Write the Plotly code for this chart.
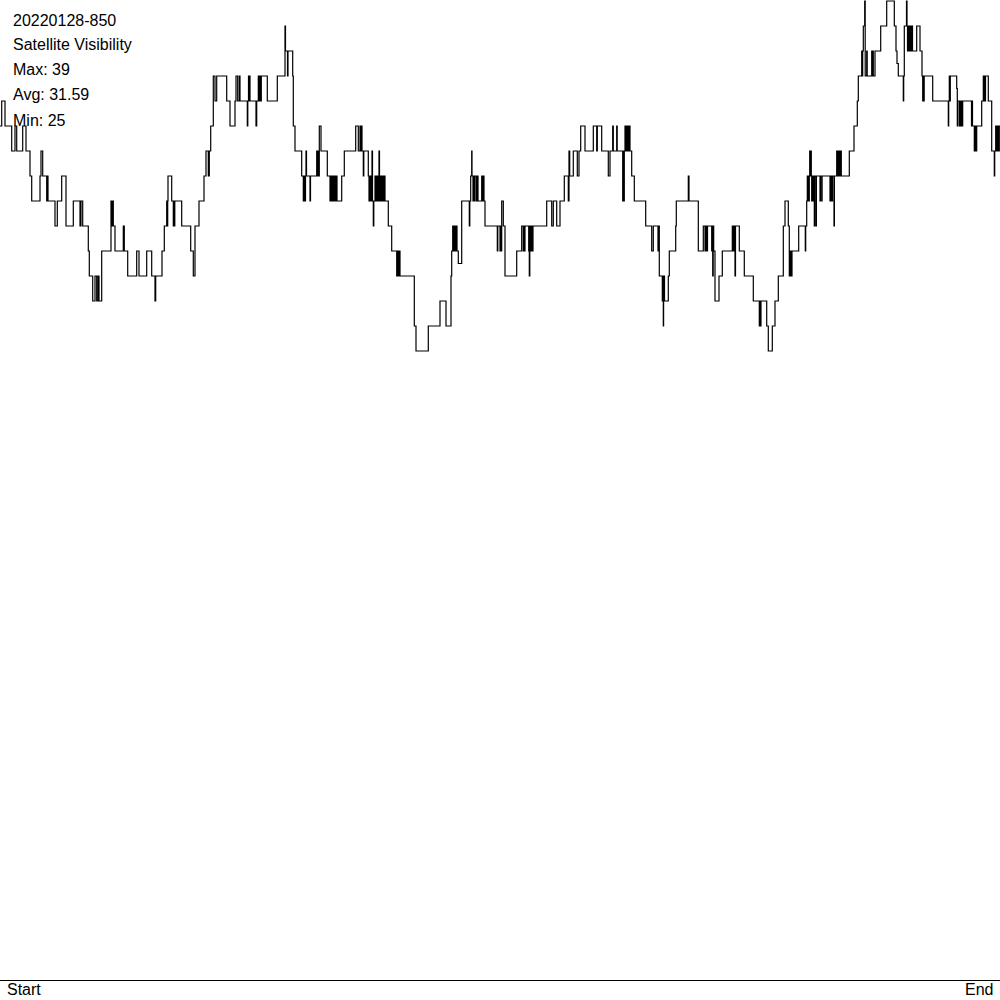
import plotly.graph_objects as go

# header lines shown in the top-left corner
header_lines = ["20220128-850", "Satellite Visibility", "Max: 39", "Avg: 31.59", "Min: 25"]
axis_labels = ["Start", "End"]

# visible satellite count, read as change points (sample position, new count)
step_x = [
    # first quarter
    0, 1.7, 5, 11.7, 15, 16.7, 22.7, 26, 30, 31.7, 40, 41, 42.7, 46.7, 47.2, 48, 55, 57.3, 61.7, 66,
    73.3, 80, 81, 82.7, 88.3, 89.3, 92.7, 95, 96.7, 98, 99, 101.7, 111, 111.7, 112.3, 113.3, 115,
    123.3, 124.3, 127.7, 136.7, 139, 146.7, 151.7, 155, 155.7, 162, 164.3, 166.7, 167.2, 167.7, 168,
    171.7, 173.3, 173.8, 174.3, 174.8, 181.7, 190.7, 193.3, 195, 199, 204, 206, 208.3, 209.3, 210.7,
    213.3, 215, 216.7, 226.7, 230, 235, 236, 237.7, 239.3, 240, 247.3, 247.8, 248.5, 249, 249.5,
    # second quarter
    250, 256, 256.7, 258.3, 259.5, 260.2, 260.8, 261.3, 267.3, 277.3, 285, 285.5, 287.5, 288,
    292.7, 293.3, 295, 301.7, 303.3, 303.8, 305, 305.5, 306, 306.5, 310, 310.5, 316.7, 317.5, 318,
    318.5, 319.3, 321, 327.3, 330, 330.7, 331.3, 332, 333, 334, 335, 336, 337, 341.7, 344.3, 355.7,
    358.3, 360, 360.5, 361.3, 362, 363.3, 363.8, 368.3, 369, 370, 371, 372, 372.5, 373.3, 373.8,
    375, 376, 377, 378, 379, 379.5, 380, 381, 382, 383, 384, 385, 388.3, 391.7, 396.7, 397.5,
    398.3, 399, 400, 414.3, 416, 428.3, 440, 446, 451, 451.7, 452.7, 453.5, 454.3, 455, 456, 457,
    458.3, 461.7, 469.3, 469.8, 470.7, 471.7, 472, 473, 473.5, 474.5, 475, 476.5, 477, 478, 481.7,
    482.3, 483, 484, 485, 497.3, 497.8,
    # third quarter
    500, 500.5, 501, 501.7, 503.3, 505, 516.7, 521.7, 523.3, 524, 524.5, 525, 528.7, 529.3, 529.8,
    530.3, 531, 531.5, 532, 532.5, 533, 546.7, 551.7, 553.3, 556.7, 560, 564.3, 568.3, 569, 569.7,
    573.3, 577.3, 579, 580.7, 585, 593.3, 596.7, 597.3, 601.7, 608.3, 610, 612.7, 613.3, 616.7,
    617.2, 622.7, 623.3, 623.8, 624.3, 625, 625.5, 626, 626.5, 627, 627.5, 628, 628.5, 629, 630,
    631.7, 634.3, 645.7, 651.7, 653.3, 658, 658.5, 659.3, 662.3, 662.8, 663.3, 663.6, 664, 664.5,
    668.3, 669.3, 675.7, 676.3, 688.3, 689, 698.3, 703.3, 705, 705.5, 706, 706.5, 707, 707.5, 708.3,
    711.7, 712.2, 712.7, 713.2, 713.7, 715, 719, 722.3, 732.3, 732.8, 733.3, 733.8, 734.3, 735,
    735.5, 737.3, 739.3, 744.3,
    # fourth quarter
    753.3, 759.3, 759.8, 760.5, 761, 766.7, 768.3, 772.3, 775, 778.3, 783.3, 785, 788.3, 789.3,
    789.8, 790.3, 790.8, 791.3, 792, 798.7, 805.3, 805.7, 806.7, 807.3, 807.8, 808.3, 808.8, 809.3,
    809.7, 810.3, 810.7, 811.3, 811.7, 812.3, 812.8, 813.3, 813.8, 814.3, 814.7, 816, 816.4, 820,
    820.4, 821.7, 822.1, 830, 830.5, 831, 831.5, 832, 832.5, 834, 834.4, 836.7, 837.3, 838, 838.7,
    839.3, 840, 840.7, 841.3, 849.3, 854, 857.3, 858.3, 861.7, 862.2, 862.7, 863.3, 864.7, 865.2,
    866.7, 867.2, 871.7, 872.2, 872.7, 873.3, 875, 880.7, 886.7, 894.3, 896, 897, 898.3, 903.3,
    903.7, 904.3, 906.5, 907, 907.5, 908, 908.5, 909, 909.5, 910, 910.5, 911, 911.5, 912, 912.5,
    916.7, 920, 922, 922.7, 923.2, 923.7, 924.2, 932.7, 948.3, 948.7, 949.3, 949.8, 950.3, 956.7,
    957.3, 957.7, 959.3, 959.7, 960.7, 961.3, 962, 962.7, 971, 971.5, 972, 972.5, 974.3, 974.8,
    975.3, 975.8, 976.3, 976.7, 981.7, 983.3, 984, 984.5, 985, 985.5, 988.3, 991.7, 994.3, 994.7,
    995.7, 996.7, 997.2, 997.7, 998.2, 998.7, 999.3, 1000,
]
step_v = [
    # first quarter
    34, 35, 34, 33, 34, 33, 34, 33, 32, 31, 32, 33, 32, 31, 32, 31, 30, 31, 32, 30,
    31, 30, 31, 30, 29, 28, 27, 28, 27, 28, 27, 29, 31, 30, 31, 30, 29,
    30, 29, 28, 29, 28, 29, 28, 27, 28, 29, 30, 31, 30, 31, 32,
    31, 30, 31, 30, 31, 30, 29, 28, 30, 31, 32, 33, 32, 33, 34,
    36, 35, 36, 35, 34, 35, 36, 35, 36, 35, 34, 35, 36, 35, 36,
    # second quarter
    35, 34, 35, 36, 35, 36, 35, 36, 35, 36, 38, 37, 36, 37,
    36, 34, 33, 32, 31, 32, 31, 32, 33, 32, 31, 32, 33, 32, 33,
    32, 34, 33, 32, 31, 32, 31, 32, 31, 32, 31, 32, 31, 32, 33, 34,
    33, 34, 33, 34, 33, 32, 33, 32, 31, 32, 31, 33, 31, 30, 31,
    32, 31, 32, 31, 33, 31, 32, 31, 32, 31, 32, 31, 30, 29, 28, 29,
    28, 29, 28, 26, 25, 26, 27, 26, 28, 29, 30, 29, 30, 29, 30, 29,
    28.5, 31, 30, 31, 32, 33, 32, 31, 32, 31, 32, 31, 32, 31, 32,
    31, 32, 31, 30, 29, 30,
    # third quarter
    29, 30, 29, 31, 30, 28, 29, 30, 29, 30, 29, 30, 29, 28, 30,
    29, 30, 29, 30, 29, 30, 31, 30, 31, 30, 31, 32, 31, 33, 32,
    33, 32, 33, 34, 33, 34, 33, 34, 33, 32, 33, 34, 33, 34,
    33, 31, 33, 31, 33, 34, 33, 34, 33, 34, 33, 34, 33, 34, 33,
    32, 31, 30, 29, 30, 29, 30, 28, 27, 28, 26, 27, 28, 27,
    28, 29, 30, 31, 32, 31, 29, 30, 29, 30, 29, 30, 29, 30, 30,
    29, 30, 28, 30, 29, 27, 28, 29, 30, 29, 30, 29, 30, 28,
    30, 30, 29, 28,
    # fourth quarter
    27, 26, 27, 26, 27, 26, 25, 26, 27, 28, 30, 31, 30, 28,
    29, 28, 29, 28, 29, 30, 29, 30, 31, 32, 31, 32, 31, 32,
    33, 32, 33, 32, 31, 32, 31, 32, 31, 30, 32, 30, 32, 31,
    32, 31, 32, 31, 32, 31, 32, 31, 32, 30, 32, 33, 32, 33, 32,
    33, 32, 33, 32, 33, 34, 35, 36, 37, 36, 37, 38, 39, 36,
    37, 36, 37, 36, 37, 36, 37, 38, 39, 38, 37, 36.5, 36, 35,
    36, 38, 39, 38, 37, 38, 37, 38, 37, 38, 37, 38, 37, 38, 37,
    38, 37, 36, 35, 36, 35, 36, 35, 34, 35, 36, 35, 36, 35.5,
    34, 35, 34, 35, 34, 35, 34, 35, 35, 34, 35, 34, 33, 34,
    33, 34, 33, 34, 35, 36, 35, 36, 35, 36, 35, 33, 32, 33,
    34, 33, 34, 33, 34, 33, 34, 34,
]

fig = go.Figure()
fig.add_trace(go.Scatter(
    x=step_x, y=step_v, mode="lines", line_shape="hv",
    line=dict(color="black", width=1.2), hoverinfo="skip", showlegend=False,
))

for i, txt in enumerate(header_lines):
    fig.add_annotation(
        text=txt, xref="paper", yref="paper", x=0.011, y=1 - (20 + 25 * i) / 980,
        xanchor="left", yanchor="middle", showarrow=False,
        font=dict(size=16, color="black"),
    )

fig.add_annotation(text=axis_labels[0], xref="paper", yref="paper", x=0.005, y=-10 / 980,
                   xanchor="left", yanchor="middle", showarrow=False, font=dict(size=16, color="black"))
fig.add_annotation(text=axis_labels[1], xref="paper", yref="paper", x=0.995, y=-10 / 980,
                   xanchor="right", yanchor="middle", showarrow=False, font=dict(size=16, color="black"))

fig.update_xaxes(range=[0, 1000], showgrid=False, zeroline=False, showticklabels=False,
                 ticks="", showline=True, linecolor="black", linewidth=1)
fig.update_yaxes(range=[-0.16, 39.04], showgrid=False, zeroline=False, showticklabels=False,
                 ticks="", showline=False)
fig.update_layout(
    width=1000, height=1000, margin=dict(l=0, r=0, t=0, b=20),
    paper_bgcolor="white", plot_bgcolor="white",
    font=dict(family="Arial, Liberation Sans, sans-serif"),
)

# drop the page's default body margin so the chart sits at the window's corner
fig.write_html(
    "out.html",
    config={"displayModeBar": False},
    post_script="document.body.style.margin='0';document.body.style.overflow='hidden';",
)
